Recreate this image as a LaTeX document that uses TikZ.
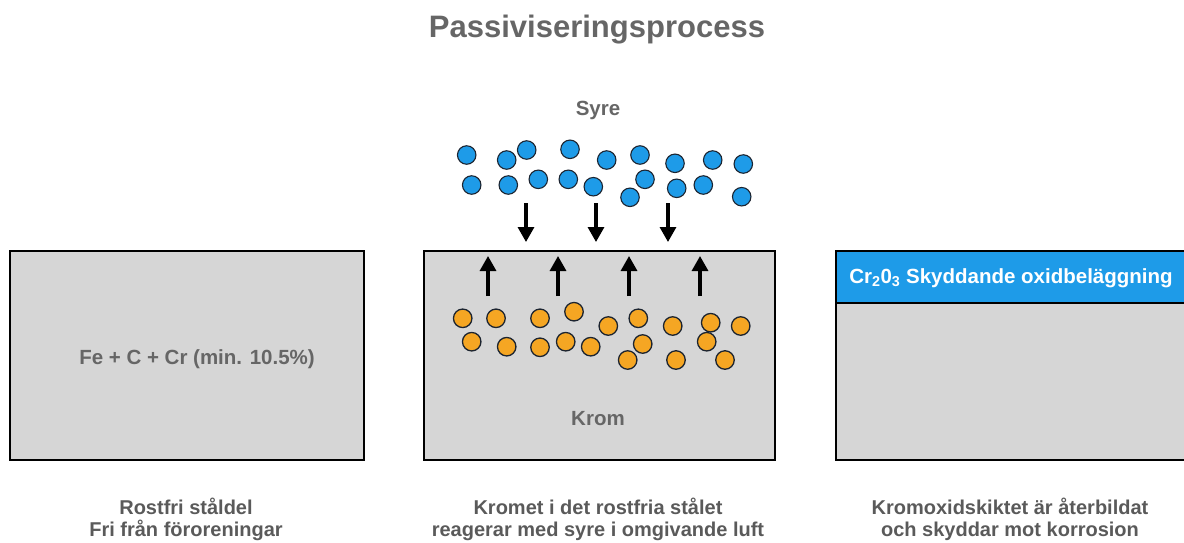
\documentclass[tikz,border=0pt]{standalone}
\usepackage{fontspec}
\setmainfont{Liberation Sans}
\usetikzlibrary{arrows.meta}
\definecolor{titlegray}{HTML}{666666}
\definecolor{capgray}{HTML}{5A5A5A}
\definecolor{boxgray}{HTML}{D6D6D6}
\definecolor{oxblue}{HTML}{1E9BE8}
\definecolor{crorange}{HTML}{F5A623}
\definecolor{ringdark}{HTML}{1C2430}
\begin{document}
\begin{tikzpicture}[x=1pt,y=-1pt,
  panel/.style={draw=black,line width=1.8pt,fill=boxgray},
  graytext/.style={text=titlegray,font=\bfseries\fontsize{20.5}{24}\selectfont,anchor=base,inner sep=0pt},
  captext/.style={text=capgray,font=\bfseries\fontsize{20}{22}\selectfont,anchor=base,inner sep=0pt},
  oxy/.style={circle,draw=ringdark,line width=1.1pt,fill=oxblue,minimum size=18.5pt,inner sep=0pt},
  crom/.style={circle,draw=ringdark,line width=1.3pt,fill=crorange,minimum size=18.5pt,inner sep=0pt},
  flow/.style={line width=3.2pt,-{Triangle[width=16pt,length=15pt]}}
]
\useasboundingbox (0,0) rectangle (1184,542);

% title
\node[text=titlegray,font=\bfseries\fontsize{31}{36}\selectfont,anchor=base,inner sep=0pt] (title) at (597,37) {Passiviseringsprocess};

% left panel
\node[panel,minimum width=354pt,minimum height=209pt,anchor=north west,inner sep=0pt] (left) at (9,250) {};
\node[graytext] (alloy) at (197,364) {Fe + C + Cr (min. 10.5\%)};

% middle panel
\node[panel,minimum width=351pt,minimum height=209pt,anchor=north west,inner sep=0pt] (mid) at (423,250) {};
\node[graytext] (krom) at (598,425) {Krom};
\node[graytext] (syre) at (598,115) {Syre};

% right panel
\node[panel,minimum width=356pt,minimum height=209pt,anchor=north west,inner sep=0pt] (right) at (835,250) {};
\node[draw=black,line width=1.8pt,fill=oxblue,minimum width=356pt,minimum height=52pt,anchor=north west,inner sep=0pt] (band) at (835,250) {};
\node[graytext,text=white] (bandtext) at (1011,283) {Cr\textsubscript{2}0\textsubscript{3} Skyddande oxidbeläggning};

% oxygen molecules
\foreach \x/\y [count=\i] in {466.7/155,506.7/160,526.7/150,570/149.3,606.7/160,640/155,675/163.3,712.7/160,743.3/164,
  471.7/185,508.3/185,538.3/179.3,568.3/179.3,593.3/186.7,630/197.3,645/179.3,676.7/188.3,703.3/185,741.7/196.7}
  \node[oxy] (o\i) at (\x,\y) {};

% chromium atoms
\foreach \x/\y [count=\i] in {462.7/318.3,496/318.3,540/318.3,574/311.7,608.3/326,638.3/318.3,672.7/326,710.7/322.7,740.7/326,
  471.7/341.7,506.7/346.7,540/347.3,565.7/341.7,590.7/346.7,627.7/360,642.7/344,676/360,706.7/341.7,725/360}
  \node[crom] (c\i) at (\x,\y) {};

% down arrows (oxygen towards surface)
\foreach \x [count=\i] in {526,596,668} {
  \coordinate (dt\i) at (\x,203);
  \coordinate (dh\i) at (\x,242);
  \draw[flow] (dt\i) -- (dh\i);
}
% up arrows (chromium towards surface)
\foreach \x [count=\i] in {488,558,629,700} {
  \coordinate (ut\i) at (\x,296);
  \coordinate (uh\i) at (\x,256);
  \draw[flow] (ut\i) -- (uh\i);
}

% captions
\node[captext] (capLa) at (186,514) {Rostfri ståldel};
\node[captext] (capLb) at (186,536) {Fri från föroreningar};
\node[captext] (capMa) at (598,514) {Kromet i det rostfria stålet};
\node[captext] (capMb) at (598,536) {reagerar med syre i omgivande luft};
\node[captext] (capRa) at (1010,514) {Kromoxidskiktet är återbildat};
\node[captext] (capRb) at (1010,536) {och skyddar mot korrosion};
\end{tikzpicture}
\end{document}
